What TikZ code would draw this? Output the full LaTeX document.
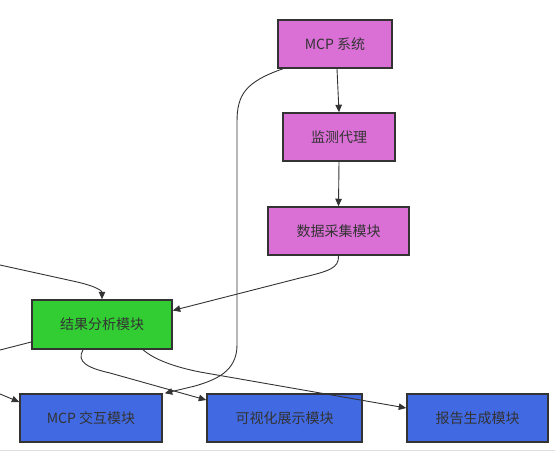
\documentclass[tikz,border=0pt]{standalone}
\usepackage{fontspec}
\setmainfont{Noto Sans CJK SC}
\usetikzlibrary{arrows.meta}
\definecolor{txt}{HTML}{333333}
\definecolor{edge}{HTML}{333333}
\definecolor{orchidc}{HTML}{DA70D6}
\definecolor{limec}{HTML}{32CD32}
\definecolor{royalc}{HTML}{4169E1}
\tikzset{
  box/.style={draw=edge, line width=1.5pt, text=txt, font=\fontsize{14}{16}\selectfont, inner sep=0pt, minimum height=48pt},
  sysbox/.style={box, fill=orchidc},
  anbox/.style={box, fill=limec},
  outbox/.style={box, fill=royalc},
  conn/.style={draw=edge, line width=0.9pt, -{Triangle[length=7.5pt,width=6.5pt]}},
  plain/.style={draw=edge, line width=0.9pt}
}
\begin{document}
\begin{tikzpicture}[x=1pt,y=-1pt]
\useasboundingbox (0,0) rectangle (555,451);
\draw[black!12, line width=1pt] (0,450) -- (555,450);
\node[sysbox, minimum width=114pt] (sys) at (335,44) {MCP 系统};
\node[sysbox, minimum width=112pt] (agent) at (339,137) {监测代理};
\node[sysbox, minimum width=141pt] (collect) at (338.5,231) {数据采集模块};
\node[anbox, minimum width=140pt, minimum height=49pt] (analysis) at (102,324.5) {结果分析模块};
\node[outbox, minimum width=142pt] (mcpi) at (91,418) {MCP 交互模块};
\node[outbox, minimum width=155pt] (vis) at (284.5,418) {可视化展示模块};
\node[outbox, minimum width=141pt] (report) at (477.5,418) {报告生成模块};
\coordinate (inA) at (0,265);
\coordinate (outB) at (0,350);
\coordinate (inC) at (0,394);
% edges
\draw[conn] ([xshift=2pt]sys.south) -- (agent.north);
\draw[conn] (agent.south) -- (collect.north);
\draw[conn] (collect.south) .. controls (339,268) and (330,271) .. (300,278) -- ([yshift=14pt]analysis.east);
\draw[conn] ([xshift=-52pt]sys.south) .. controls (245,82) and (237,95) .. (237,122) -- (237,345) .. controls (237,372) and (215,380) .. (195,386) -- ([xshift=2pt]mcpi.north east);
\draw[conn] ([xshift=-19pt]analysis.south) .. controls (76,362) and (88,368) .. (110,373) -- ([yshift=18pt]vis.west);
\draw[conn] ([xshift=41pt]analysis.south) .. controls (155,360) and (175,367) .. (200,372) -- ([yshift=10pt]report.west);
\draw[conn] (inA) -- (75,281.5) .. controls (100,287) and (102,292) .. (analysis.north);
\draw[plain] ([yshift=-17.5pt]analysis.west) -- (outB);
\draw[conn] (inC) -- ([yshift=16pt]mcpi.west);
\end{tikzpicture}
\end{document}
